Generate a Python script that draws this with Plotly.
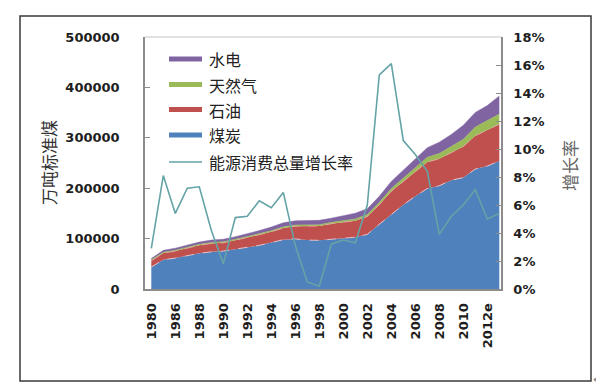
import plotly.graph_objects as go

# ---------------- data ----------------
years = ["1980", "1985", "1986", "1987", "1988", "1989", "1990", "1991", "1992", "1993",
         "1994", "1995", "1996", "1997", "1998", "1999", "2000", "2001", "2002", "2003",
         "2004", "2005", "2006", "2007", "2008", "2009", "2010", "2011", "2012e", "2013e"]
tick_labels = years[::2]

coal = [43500, 58100, 61300, 66000, 70900, 73700, 75200, 79000, 82600, 86600,
        92100, 97900, 99400, 97000, 96600, 99200, 100700, 102700, 108400, 128300,
        148400, 167100, 183900, 199400, 204900, 215900, 221000, 238000, 244000, 254000]
oil = [12500, 13100, 13900, 14700, 15800, 16600, 16400, 17700, 19100, 21100,
       21400, 23000, 25300, 27700, 28300, 30200, 32300, 32800, 35600, 39000,
       45500, 46700, 49900, 52700, 53300, 54900, 61700, 66000, 72000, 73000]
gas = [1900, 1700, 1900, 1800, 2000, 1900, 2100, 2100, 2100, 2200,
       2300, 2400, 2400, 2400, 2500, 2800, 3200, 3600, 3800, 4600,
       5300, 6100, 7500, 9300, 10800, 12000, 14300, 17400, 18000, 20000]
hydro = [2400, 3800, 3800, 4100, 4400, 4800, 5000, 5000, 5300, 6000,
         7000, 8000, 8100, 8700, 8900, 8300, 9300, 11300, 11600, 11900,
         14300, 16000, 17300, 19100, 22400, 23900, 27900, 29000, 30000, 36000]
growth = [2.9, 8.1, 5.4, 7.2, 7.3, 4.2, 1.8, 5.1, 5.2, 6.3,
          5.8, 6.9, 3.1, 0.5, 0.2, 3.2, 3.5, 3.3, 6.0, 15.3,
          16.1, 10.6, 9.6, 8.4, 3.9, 5.2, 6.0, 7.1, 5.0, 5.4]

series_names = ["煤炭", "石油", "天然气", "水电"]
line_name = "能源消费总量增长率"

# ---------------- layout geometry (pixels) ----------------
W, H = 604, 389
PL, PR, PT, PB = 137, 493, 29, 281   # plot area edges


def px(x):
    return (x - PL) / (PR - PL)


def py(y):
    return (PB - y) / (PB - PT)


colors = {"煤炭": "#4F81BD", "石油": "#C0504D", "天然气": "#9BBB59", "水电": "#8064A2"}
line_color = "#64a3a6"
tick_font = dict(family="DejaVu Sans", size=13, color="#1e1e1e", weight="bold")
cjk = "Noto Sans CJK SC"

fig = go.Figure()

edge_styles = {
    "煤炭": dict(color="rgba(240,200,205,0.85)", width=1, dash="dash"),
    "石油": dict(color="rgba(230,165,165,0.8)", width=1, dash="dash"),
    "天然气": dict(color=colors["天然气"], width=0.5),
    "水电": dict(color=colors["水电"], width=0.5),
}
for name, vals in zip(series_names, [coal, oil, gas, hydro]):
    fig.add_trace(go.Scatter(
        x=years, y=vals, name=name, mode="lines", stackgroup="energy",
        fillcolor=colors[name], line=edge_styles[name], showlegend=False,
        hoverinfo="skip"))

fig.add_trace(go.Scatter(
    x=years, y=growth, name=line_name, mode="lines", yaxis="y2",
    line=dict(color=line_color, width=1.6), showlegend=False))

axis_gray = "#8c8c8c"
fig.update_layout(
    width=W, height=H,
    margin=dict(l=PL, r=W - PR, t=PT, b=H - PB),
    paper_bgcolor="white", plot_bgcolor="white",
    showlegend=False,
    xaxis=dict(type="category", categoryorder="array", categoryarray=years,
               range=[(PL - 143.3) / 12.0, (PR - 143.3) / 12.0],
               tickmode="array", tickvals=tick_labels, ticktext=tick_labels,
               tickangle=-90, tickfont=tick_font, ticks="", ticklabelstandoff=7,
               showline=True, linecolor=axis_gray, linewidth=2,
               showgrid=False, zeroline=False),
    yaxis=dict(range=[0, 500000], dtick=100000, tickformat="d",
               tickfont=tick_font, ticks="inside", ticklen=5, tickcolor=axis_gray,
               ticklabelstandoff=21,
               showline=True, linecolor=axis_gray, linewidth=1.5,
               showgrid=False, zeroline=False),
    yaxis2=dict(overlaying="y", side="right", range=[0, 18], dtick=2,
                ticksuffix="%", tickfont=tick_font, ticks="inside", ticklen=5,
                tickcolor=axis_gray, ticklabelstandoff=8,
                showline=True, linecolor=axis_gray, linewidth=1.5,
                showgrid=False, zeroline=False),
)

shapes = []
# outer frame of the picture
shapes.append(dict(type="rect", xref="paper", yref="paper",
                   x0=px(12), x1=px(583), y0=py(373), y1=py(8),
                   line=dict(color="#3a3a3a", width=1.5), layer="below"))
# top border of plot area
shapes.append(dict(type="line", xref="paper", yref="paper",
                   x0=0, x1=1, y0=1, y1=1, line=dict(color="#c4c4c4", width=1)))

annotations = []
# manual legend
legend_rows = [("水电", 51), ("天然气", 76.5), ("石油", 101.5), ("煤炭", 127)]
for name, yc in legend_rows:
    shapes.append(dict(type="rect", xref="paper", yref="paper",
                       x0=px(161), x1=px(194), y0=py(yc + 2.6), y1=py(yc - 2.6),
                       fillcolor=colors[name], line=dict(width=0)))
    annotations.append(dict(xref="paper", yref="paper", x=px(199), y=py(yc),
                            text=name, showarrow=False, xanchor="left",
                            yanchor="middle",
                            font=dict(family=cjk, size=16, color="#222")))
shapes.append(dict(type="line", xref="paper", yref="paper",
                   x0=px(161), x1=px(194), y0=py(154), y1=py(154),
                   line=dict(color=line_color, width=1.6)))
annotations.append(dict(xref="paper", yref="paper", x=px(199), y=py(154),
                        text=line_name, showarrow=False, xanchor="left",
                        yanchor="middle",
                        font=dict(family=cjk, size=16, color="#222")))

# axis titles
annotations.append(dict(xref="paper", yref="paper", x=px(40), y=py(155),
                        text="万吨标准煤", textangle=-90, showarrow=False,
                        xanchor="center", yanchor="middle",
                        font=dict(family=cjk, size=17, color="#333")))
annotations.append(dict(xref="paper", yref="paper", x=px(561), y=py(158),
                        text="增长率", textangle=-90, showarrow=False,
                        xanchor="center", yanchor="middle",
                        font=dict(family=cjk, size=17, color="#666")))
# paragraph mark at the corner
annotations.append(dict(xref="paper", yref="paper", x=px(589), y=py(371),
                        text="↵", showarrow=False, xanchor="center",
                        yanchor="middle",
                        font=dict(family="DejaVu Sans", size=10, color="#777")))

fig.update_layout(shapes=shapes, annotations=annotations)

fig.write_html("out.html")
